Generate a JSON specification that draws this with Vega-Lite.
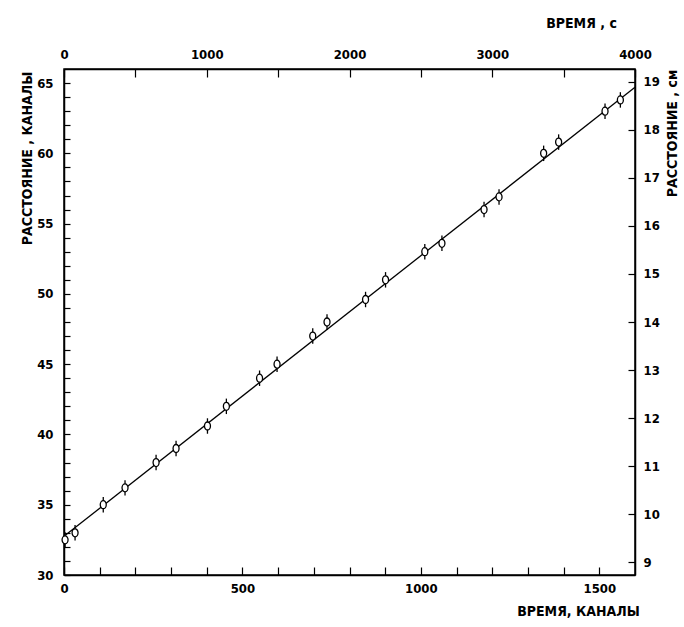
{
  "$schema": "https://vega.github.io/schema/vega-lite/v6.json",
  "width": 571,
  "height": 506,
  "autosize": "none",
  "padding": {"left": 64, "top": 69, "right": 49, "bottom": 52},
  "background": "white",
  "config": {
    "view": {"stroke": "black", "strokeWidth": 1.5},
    "font": "DejaVu Sans Condensed",
    "axis": {
      "domainColor": "black", "domainWidth": 1.5,
      "tickColor": "black", "tickWidth": 1.2,
      "labelColor": "black", "titleColor": "black",
      "labelFont": "DejaVu Sans Condensed", "titleFont": "DejaVu Sans Condensed",
      "labelFontSize": 13, "titleFontSize": 14, "titleFontWeight": "bold",
      "labelFontWeight": "bold",
      "grid": false, "labelOverlap": false, "labelFlush": false
    }
  },
  "datasets": {
    "fit": [{"ch": 0, "dist": 32.75}, {"ch": 1600, "dist": 64.7}],
    "pts": [
      {"ch": 3, "dist": 32.5, "err": 0.55},
      {"ch": 31, "dist": 33.0, "err": 0.55},
      {"ch": 110, "dist": 35.0, "err": 0.55},
      {"ch": 171, "dist": 36.2, "err": 0.55},
      {"ch": 258, "dist": 38.0, "err": 0.55},
      {"ch": 314, "dist": 39.0, "err": 0.55},
      {"ch": 402, "dist": 40.6, "err": 0.55},
      {"ch": 455, "dist": 42.0, "err": 0.55},
      {"ch": 548, "dist": 44.0, "err": 0.55},
      {"ch": 597, "dist": 45.0, "err": 0.55},
      {"ch": 697, "dist": 47.0, "err": 0.55},
      {"ch": 737, "dist": 48.0, "err": 0.55},
      {"ch": 845, "dist": 49.6, "err": 0.55},
      {"ch": 901, "dist": 51.0, "err": 0.55},
      {"ch": 1011, "dist": 53.0, "err": 0.55},
      {"ch": 1059, "dist": 53.6, "err": 0.55},
      {"ch": 1177, "dist": 56.0, "err": 0.55},
      {"ch": 1219, "dist": 56.9, "err": 0.55},
      {"ch": 1344, "dist": 60.0, "err": 0.55},
      {"ch": 1386, "dist": 60.8, "err": 0.55},
      {"ch": 1516, "dist": 63.0, "err": 0.55},
      {"ch": 1559, "dist": 63.8, "err": 0.55}
    ],
    "sec": [{"t": 0, "cm": 9}, {"t": 4000, "cm": 19}]
  },
  "layer": [
    {
      "encoding": {
        "x": {
          "field": "ch", "type": "quantitative",
          "scale": {"domain": [0, 1600], "nice": false, "zero": false},
          "axis": {
            "orient": "bottom",
            "values": [0,100,200,300,400,500,600,700,800,900,1000,1100,1200,1300,1400,1500],
            "labelExpr": "datum.value % 500 === 0 ? datum.label : ''",
            "format": "d", "tickSize": -8, "labelPadding": 15,
            "title": "ВРЕМЯ, КАНАЛЫ",
            "titleX": 514, "titleY": 36, "titleAlign": "center", "titleBaseline": "middle"
          }
        },
        "y": {
          "field": "dist", "type": "quantitative",
          "scale": {"domain": [30, 66], "nice": false, "zero": false},
          "axis": {
            "orient": "left",
            "values": [30,31,32,33,34,35,36,37,38,39,40,41,42,43,44,45,46,47,48,49,50,51,52,53,54,55,56,57,58,59,60,61,62,63,64,65],
            "labelExpr": "datum.value % 5 === 0 ? datum.label : ''",
            "format": "d", "tickSize": -6, "labelPadding": 17,
            "title": "РАССТОЯНИЕ , КАНАЛЫ",
            "titleAngle": -90, "titleX": -37, "titleY": 89,
            "titleAlign": "center", "titleBaseline": "middle"
          }
        }
      },
      "layer": [
        {"data": {"name": "fit"}, "mark": {"type": "line", "color": "black", "strokeWidth": 1.3}},
        {"data": {"name": "pts"}, "mark": {"type": "errorbar", "color": "black", "thickness": 1.3},
         "encoding": {"yError": {"field": "err"}}},
        {"data": {"name": "pts"},
         "mark": {"type": "point", "shape": "M0,-1A0.75,1 0 1,1 0,1A0.75,1 0 1,1 0,-1Z", "filled": false, "fill": "white", "fillOpacity": 1, "stroke": "black", "strokeWidth": 1.3, "size": 64, "opacity": 1}}
      ]
    },
    {
      "data": {"name": "sec"},
      "mark": {"type": "point", "opacity": 0},
      "encoding": {
        "x": {
          "field": "t", "type": "quantitative",
          "scale": {"domain": [0, 4000], "nice": false, "zero": false},
          "axis": {
            "orient": "top",
            "values": [0,500,1000,1500,2000,2500,3000,3500,4000],
            "labelExpr": "datum.value % 1000 === 0 ? datum.label : ''",
            "format": "d", "tickSize": -8, "labelPadding": 16,
            "title": "ВРЕМЯ , с",
            "titleX": 517, "titleY": -46, "titleAlign": "center", "titleBaseline": "middle"
          }
        },
        "y": {
          "field": "cm", "type": "quantitative",
          "scale": {"domain": [8.73, 19.27], "nice": false, "zero": false},
          "axis": {
            "orient": "right",
            "values": [9,10,11,12,13,14,15,16,17,18,19],
            "format": "d", "tickSize": -7, "labelPadding": 15,
            "title": "РАССТОЯНИЕ , см",
            "titleAngle": -90, "titleX": 37, "titleY": 64,
            "titleAlign": "center", "titleBaseline": "middle"
          }
        }
      }
    }
  ],
  "resolve": {"scale": {"x": "independent", "y": "independent"}}
}
